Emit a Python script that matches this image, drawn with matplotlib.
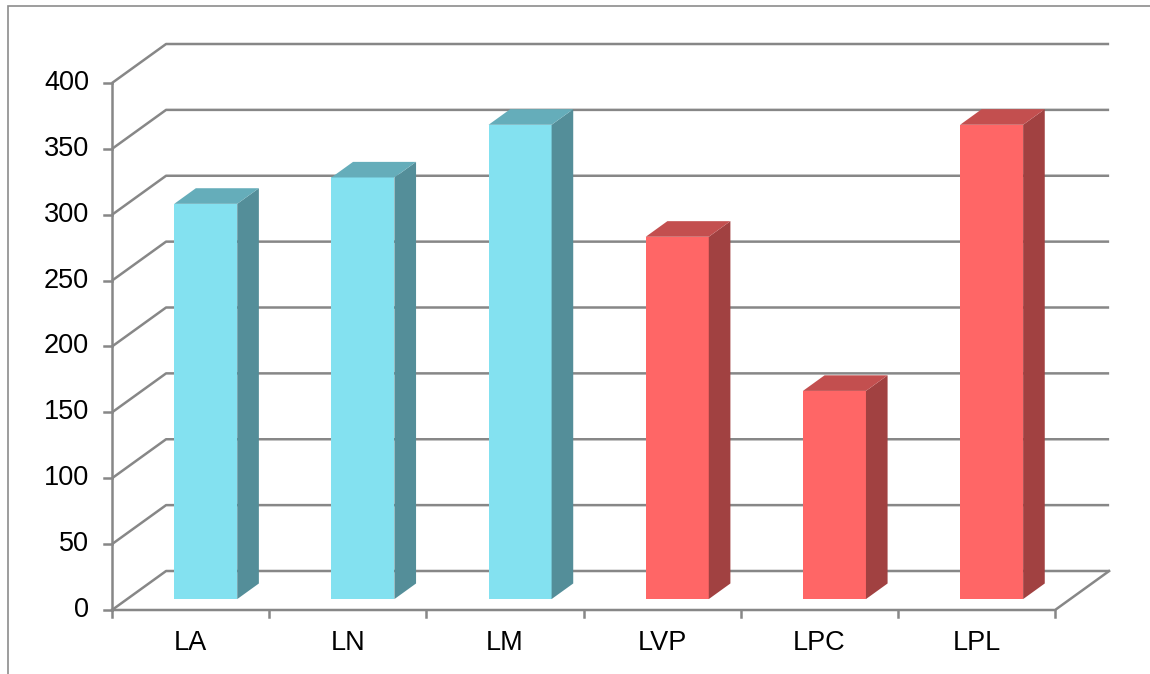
import matplotlib
matplotlib.use("Agg")
import matplotlib.pyplot as plt
from matplotlib.patches import Polygon, Rectangle

# data
categories = ["LA", "LN", "LM", "LVP", "LPC", "LPL"]
values = [300, 320, 360, 275, 158, 360]
groups = ["blue", "blue", "blue", "red", "red", "red"]
y_ticks = [0, 50, 100, 150, 200, 250, 300, 350, 400]

# face colours (front, side, top)
palette = {
    "blue": ("#83E1F0", "#548E99", "#65ADBA"),
    "red": ("#FF6666", "#A14141", "#C34F4F"),
}
grid_col = "#878787"

plt.rcParams['font.family'] = ['Liberation Sans', 'DejaVu Sans']

fig = plt.figure(figsize=(11.5, 6.74), dpi=100)
ax = fig.add_axes([0, 0, 1, 1])
ax.set_xlim(-0.7126, 6.604)
ax.set_ylim(-48.58, 463.0)
ax.axis("off")

# pseudo 3d depth of the plot box (in data units)
DX, DY = 0.344, 29.6
f0, f1 = 0.28, 0.68          # bar depth span as fraction of box depth
bw = 0.401                   # bar width
n = len(categories)
ymax = y_ticks[-1]
lw = 1.8
fs = 19.5

# gridlines: front edge -> back wall
for v in y_ticks:
    ax.plot([0, DX, n + DX], [v, v + DY, v + DY], color=grid_col, lw=lw,
            solid_capstyle="butt", zorder=1)
# floor
ax.plot([0, n, n + DX], [0, 0, DY], color=grid_col, lw=lw, zorder=1)
# y axis + ticks
ax.plot([0, 0], [0, ymax], color=grid_col, lw=lw, zorder=1)
for v in y_ticks:
    ax.plot([-0.05, 0], [v, v], color=grid_col, lw=lw, zorder=1)
    ax.text(-0.145, v, str(v), ha="right", va="center", fontsize=fs)
# x ticks
for i in range(n + 1):
    ax.plot([i, i], [0, -5.5], color=grid_col, lw=lw, zorder=1)

# bars
for i, (cat, v, g) in enumerate(zip(categories, values, groups)):
    front, side, top = palette[g]
    x0 = i + 0.5 - bw / 2 + f0 * DX
    x1 = x0 + bw
    y0 = f0 * DY
    ddx = (f1 - f0) * DX
    ddy = (f1 - f0) * DY
    ax.add_patch(Rectangle((x0, y0), bw, v, facecolor=front, edgecolor="none", zorder=3))
    ax.add_patch(Polygon([(x1, y0), (x1 + ddx, y0 + ddy), (x1 + ddx, y0 + v + ddy),
                          (x1, y0 + v)], closed=True, facecolor=side, edgecolor="none", zorder=3))
    ax.add_patch(Polygon([(x0, y0 + v), (x1, y0 + v), (x1 + ddx, y0 + v + ddy),
                          (x0 + ddx, y0 + v + ddy)], closed=True, facecolor=top,
                         edgecolor="none", zorder=3))
    ax.text(i + 0.5, -25, cat, ha="center", va="center", fontsize=fs)

# chart frame (cut off at right / bottom)
fig.add_artist(Rectangle((7.5 / 1150, -0.1), 1.2, 1.1 - 6.5 / 674,
                         transform=fig.transFigure, fill=False,
                         edgecolor="#8C8C8C", lw=1.2))

fig.savefig("out.png", dpi=100)
